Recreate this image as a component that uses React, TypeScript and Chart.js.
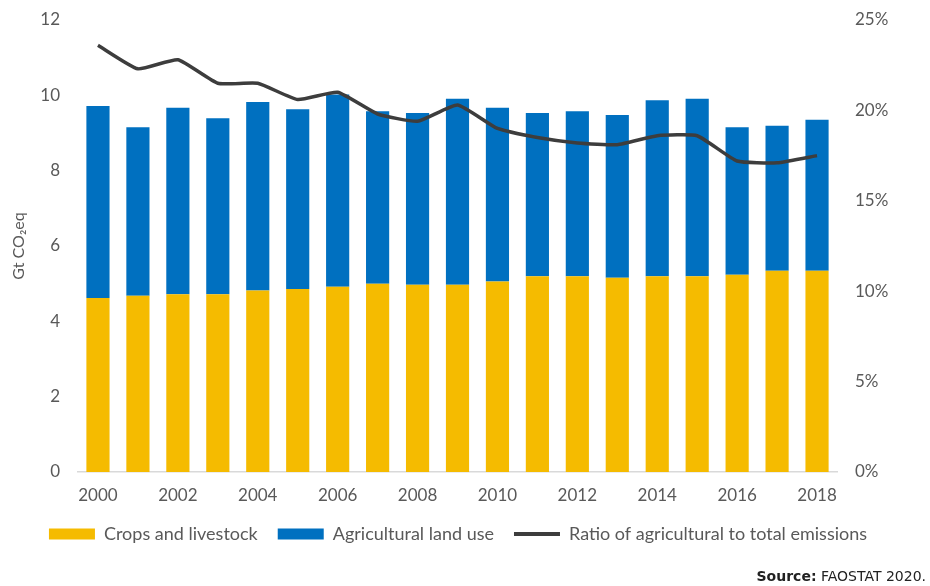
import React, { useEffect, useRef } from "react";
import { Chart, registerables } from "chart.js";

Chart.register(...registerables);

const years = [
  "2000", "2001", "2002", "2003", "2004", "2005", "2006", "2007", "2008", "2009",
  "2010", "2011", "2012", "2013", "2014", "2015", "2016", "2017", "2018",
];
const cropsLivestock = [
  4.62, 4.68, 4.72, 4.72, 4.82, 4.86, 4.92, 5.0, 4.97, 4.97,
  5.06, 5.2, 5.2, 5.16, 5.2, 5.2, 5.24, 5.34, 5.34,
];
const agriLandUse = [
  5.1, 4.47, 4.95, 4.67, 5.0, 4.77, 5.1, 4.58, 4.56, 4.94,
  4.61, 4.33, 4.38, 4.32, 4.67, 4.71, 3.91, 3.85, 4.01,
];
const ratioPct = [
  23.6, 22.3, 22.8, 21.5, 21.5, 20.6, 21.0, 19.8, 19.4, 20.3,
  19.0, 18.5, 18.2, 18.1, 18.6, 18.6, 17.2, 17.1, 17.5,
];
const leftTicks = [0, 2, 4, 6, 8, 10, 12];
const rightTicks = [0, 5, 10, 15, 20, 25];

const FONT = "Lato, 'Open Sans', sans-serif";
const TICK_COLOR = "#595959";

export default function App() {
  const canvasRef = useRef<HTMLCanvasElement | null>(null);

  useEffect(() => {
    document.body.style.margin = "0";
    const canvas = canvasRef.current;
    if (!canvas) return;
    const chart = new Chart(canvas, {
      type: "bar",
      data: {
        labels: years,
        datasets: [
          {
            type: "bar",
            label: "Crops and livestock",
            data: cropsLivestock,
            backgroundColor: "#F5BB00",
            yAxisID: "y",
            stack: "s",
            order: 2,
            categoryPercentage: 1,
            barPercentage: 0.58,
          },
          {
            type: "bar",
            label: "Agricultural land use",
            data: agriLandUse,
            backgroundColor: "#0070C0",
            yAxisID: "y",
            stack: "s",
            order: 2,
            categoryPercentage: 1,
            barPercentage: 0.58,
          },
          {
            type: "line",
            label: "Ratio of agricultural to total emissions",
            data: ratioPct,
            borderColor: "#3D3D3D",
            backgroundColor: "#3D3D3D",
            borderWidth: 3.5,
            pointRadius: 0,
            tension: 0.15,
            yAxisID: "y1",
            order: 0,
          } as any,
        ],
      },
      options: {
        animation: false,
        responsive: false,
        maintainAspectRatio: false,
        devicePixelRatio: 1,
        layout: { padding: { top: 20, left: 0, right: 14, bottom: 33 } },
        plugins: {
          tooltip: { enabled: false },
          legend: {
            position: "bottom",
            labels: {
              usePointStyle: true,
              pointStyleWidth: 46,
              boxHeight: 11,
              padding: 20,
              color: TICK_COLOR,
              font: { family: FONT, size: 18 },
              generateLabels: (ch: any) =>
                ch.data.datasets.map((ds: any, i: number) => {
                  const isLine = ds.type === "line";
                  return {
                    text: ds.label,
                    fillStyle: isLine ? ds.borderColor : ds.backgroundColor,
                    strokeStyle: isLine ? ds.borderColor : ds.backgroundColor,
                    lineWidth: isLine ? 4 : 0,
                    pointStyle: isLine ? "line" : "rect",
                    hidden: false,
                    datasetIndex: i,
                    fontColor: TICK_COLOR,
                  };
                }),
            },
          },
        },
        scales: {
          x: {
            stacked: true,
            grid: { display: false, drawTicks: false },
            border: { display: true, color: "#D9D9D9", width: 1.5 },
            afterFit: (scale: any) => {
              scale.height = 33;
            },
            ticks: {
              autoSkip: false,
              maxRotation: 0,
              padding: 13,
              color: TICK_COLOR,
              font: { family: FONT, size: 17 },
              callback: (_v: any, i: number) => (i % 2 === 0 ? years[i] : ""),
            },
          },
          y: {
            stacked: true,
            position: "left",
            min: 0,
            max: 12,
            afterBuildTicks: (scale: any) => {
              scale.ticks = leftTicks.map((v) => ({ value: v }));
            },
            afterFit: (scale: any) => {
              scale.width = 78;
              scale.paddingTop = 0;
              scale.paddingBottom = 0;
            },
            grid: { display: false, drawTicks: false },
            border: { display: false },
            title: {
              display: true,
              text: "Gt CO₂eq",
              color: TICK_COLOR,
              font: { family: FONT, size: 16 },
              padding: { top: 9, bottom: 0 },
            },
            ticks: {
              padding: 18,
              color: TICK_COLOR,
              font: { family: FONT, size: 17 },
            },
          },
          y1: {
            stacked: false,
            position: "right",
            min: 0,
            max: 25,
            afterBuildTicks: (scale: any) => {
              scale.ticks = rightTicks.map((v) => ({ value: v }));
            },
            afterFit: (scale: any) => {
              scale.width = 79;
              scale.paddingTop = 0;
              scale.paddingBottom = 0;
            },
            grid: { display: false, drawTicks: false },
            border: { display: false },
            ticks: {
              padding: 18,
              color: TICK_COLOR,
              font: { family: FONT, size: 17 },
              callback: (v: any) => `${v}%`,
            },
          },
        },
      },
    });
    return () => chart.destroy();
  }, []);

  return (
    <div style={{ position: "relative", width: 930, height: 586, background: "#fff" }}>
      <canvas ref={canvasRef} width={930} height={586} style={{ display: "block", width: 930, height: 586 }} />
      <div
        style={{
          position: "absolute",
          right: 4,
          top: 568,
          fontFamily: "'DejaVu Sans', Verdana, sans-serif",
          fontSize: 14,
          color: "#222",
          whiteSpace: "nowrap",
        }}
      >
        <b>Source:</b> FAOSTAT 2020.
      </div>
    </div>
  );
}
